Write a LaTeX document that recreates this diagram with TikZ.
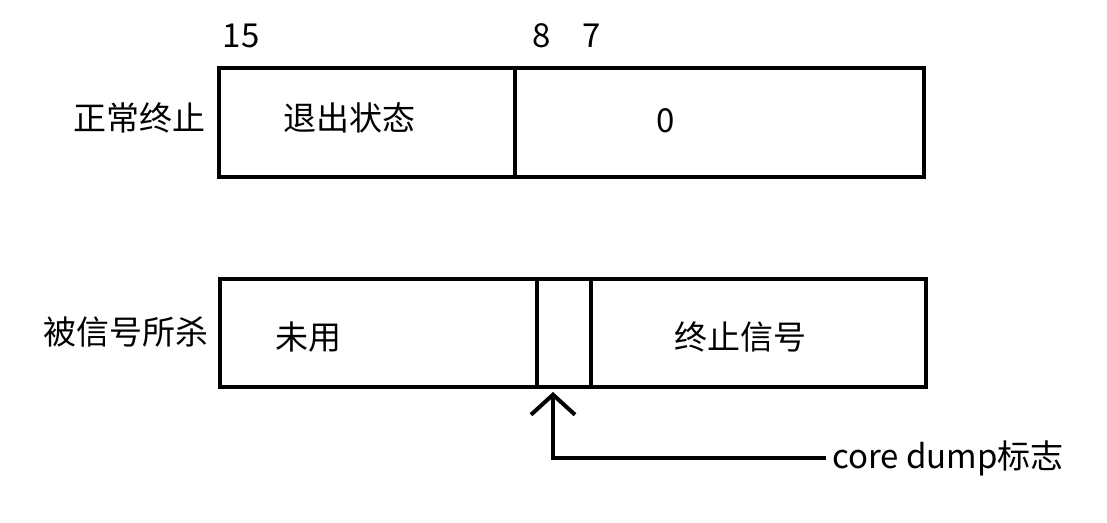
\documentclass[tikz,border=0pt]{standalone}
\usepackage{fontspec}
\setmainfont{Noto Sans CJK SC}
\usetikzlibrary{arrows.meta}

\begin{document}
\begin{tikzpicture}[x=1pt, y=-1pt,
  field/.style={draw, line width=4pt, inner sep=0pt, outer sep=0pt, anchor=north west},
  txt/.style={font=\fontsize{33}{38}\selectfont, inner sep=0pt}]
  \useasboundingbox (0,0) rectangle (1107,522);

  % normal exit word
  \node [field, minimum width=296pt, minimum height=109pt](exitst) at (219,68) {};
  \node [field, minimum width=409pt, minimum height=109pt](zero) at (515,68) {};

  % killed by signal word
  \node [field, minimum width=317pt, minimum height=108pt](unused) at (220,279) {};
  \node [field, minimum width=54pt, minimum height=108pt](core) at (537,279) {};
  \node [field, minimum width=335pt, minimum height=108pt](sig) at (591,279) {};

  % bit numbers
  \node [txt](b15) at (241,36) {15};
  \node [txt](b8) at (542,36) {8};
  \node [txt](b7) at (592,36) {7};

  % row labels and field texts
  \node [txt, anchor=east](normal) at (206,118) {正常终止};
  \node [txt, anchor=east](killed) at (209,332) {被信号所杀};
  \node [txt](exittxt) at (349,118) {退出状态};
  \node [txt](zerotxt) at (666,121) {0};
  \node [txt](unusedtxt) at (308,337) {未用};
  \node [txt](sigtxt) at (740,337) {终止信号};

  % core dump flag
  \node [txt, anchor=west, inner xsep=6pt](flag) at (826,458) {core dump标志};
  \coordinate (tip) at (553,392);
  \draw [line width=4pt, -{Straight Barb[length=20pt, width=44pt]}] (flag.west) -| (tip);
\end{tikzpicture}
\end{document}
